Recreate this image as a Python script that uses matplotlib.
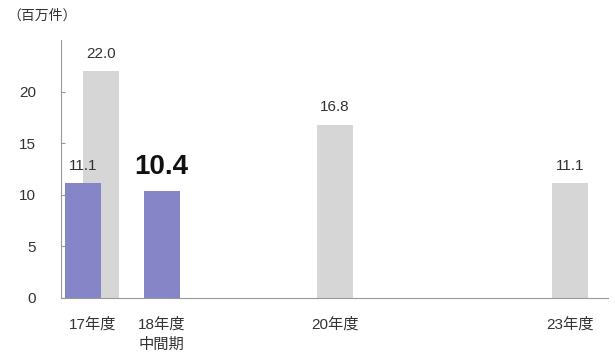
import numpy as np
import matplotlib.pyplot as plt

plt.rcParams['font.family'] = ['Liberation Sans', 'Noto Sans CJK JP']

# values in millions
categories = ['17年度', '18年度\n中間期', '20年度', '23年度']
actual = [11.1, 10.4]            # 17年度, 18年度中間期
target = [22.0, 16.8, 11.1]      # 17年度, 20年度, 23年度
yticks = [0, 5, 10, 15, 20]

purple = '#8585c8'
gray = '#d6d6d6'
width = 0.66

# category centres along the x axis
xc = np.array([0.57, 1.84, 5.01, 9.31])
x_actual = np.array([xc[0] - 0.16, xc[1]])
x_target = np.array([xc[0] + 0.16, xc[2], xc[3]])

fig = plt.figure(figsize=(6.15, 3.55), dpi=100)
ax = fig.add_axes([0.0992, 0.1606, 0.8894, 0.7264])

ax.bar(x_target, target, width, color=gray, zorder=1)
ax.bar(x_actual, actual, width, color=purple, zorder=2)

# value labels
for x, v in zip(x_target, target):
    ax.text(x, v + 1.0, f'{v:.1f}', ha='center', va='bottom',
            fontsize=11, color='#333333')
ax.text(x_actual[0], actual[0] + 1.0, f'{actual[0]:.1f}', ha='center',
        va='bottom', fontsize=11, color='#333333', zorder=3)
ax.text(x_actual[1], actual[1] + 1.0, f'{actual[1]:.1f}', ha='center',
        va='bottom', fontsize=20, fontweight='bold', color='#111111')

ax.set_xlim(0, 10)
ax.set_ylim(0, 25)
ax.set_yticks(yticks)
ax.set_xticks(xc)
ax.set_xticklabels(categories, fontsize=11, color='#333333',
                   linespacing=1.5, va='top')
ax.tick_params(axis='x', length=0, pad=14)
ax.tick_params(axis='y', direction='in', length=3, color='#999999',
               labelsize=11, labelcolor='#333333', pad=18)
for lbl in ax.get_yticklabels():
    lbl.set_horizontalalignment('right')

for s in ['top', 'right']:
    ax.spines[s].set_visible(False)
ax.spines['left'].set_color('#999999')
ax.spines['bottom'].set_color('#999999')

fig.text(0.012, 0.955, '（百万件）', fontsize=10, color='#333333',
         ha='left', va='center')

fig.savefig('out.png', dpi=100)
